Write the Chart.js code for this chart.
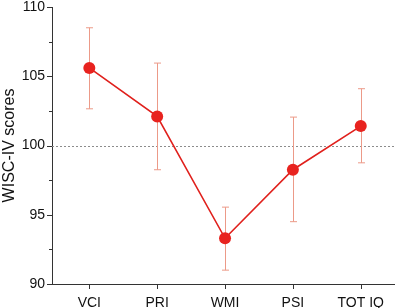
<!DOCTYPE html>
<html>
<head>
<meta charset="utf-8">
<script src="https://cdn.jsdelivr.net/npm/chart.js@4/dist/chart.umd.min.js"></script>
<style>
  html, body { margin: 0; padding: 0; background: #fff; }
  #wrap { width: 400px; height: 308px; }
</style>
</head>
<body>
<div id="wrap"><canvas id="wiscChart"></canvas></div>
<script>
const categories = ['VCI', 'PRI', 'WMI', 'PSI', 'TOT IQ'];
const scores = [105.6, 102.1, 93.3, 98.25, 101.4];
const upper = [108.5, 105.95, 95.55, 102.05, 104.1];
const lower = [102.65, 98.25, 91.0, 94.5, 98.75];
const yTicks = [90, 95, 100, 105, 110];
const refLine = 100;

const axisFont = { family: 'Liberation Sans, Arial, sans-serif', size: 14 };

// dotted reference line, error bars and axis ticks
const extras = {
    id: 'extras',
    beforeDatasetsDraw(chart) {
        const ctx = chart.ctx;
        const x = chart.scales.x;
        const y = chart.scales.y;
        const area = chart.chartArea;

        ctx.save();
        ctx.strokeStyle = '#8c8c8c';
        ctx.lineWidth = 1;
        ctx.setLineDash([2, 2]);
        ctx.beginPath();
        ctx.moveTo(area.left, Math.round(y.getPixelForValue(refLine)) + 0.5);
        ctx.lineTo(area.right, Math.round(y.getPixelForValue(refLine)) + 0.5);
        ctx.stroke();
        ctx.setLineDash([]);

        ctx.strokeStyle = '#ec9a88';
        ctx.lineWidth = 1;
        categories.forEach((c, i) => {
            const px = Math.round(x.getPixelForValue(i)) + 0.5;
            const top = y.getPixelForValue(upper[i]);
            const bot = y.getPixelForValue(lower[i]);
            ctx.beginPath();
            ctx.moveTo(px, top);
            ctx.lineTo(px, bot);
            ctx.moveTo(px - 3.5, top);
            ctx.lineTo(px + 3.5, top);
            ctx.moveTo(px - 3.5, bot);
            ctx.lineTo(px + 3.5, bot);
            ctx.stroke();
        });
        ctx.restore();
    },
    afterDraw(chart) {
        const ctx = chart.ctx;
        const x = chart.scales.x;
        const y = chart.scales.y;
        const area = chart.chartArea;
        ctx.save();
        ctx.strokeStyle = '#333';
        ctx.lineWidth = 1;
        ctx.beginPath();
        for (let v = 90; v <= 110; v += 2.5) {
            const py = Math.round(y.getPixelForValue(v)) + 0.5;
            const len = v % 5 === 0 ? 5 : 3;
            ctx.moveTo(area.left - len, py);
            ctx.lineTo(area.left, py);
        }
        categories.forEach((c, i) => {
            const px = Math.round(x.getPixelForValue(i)) + 0.5;
            ctx.moveTo(px, area.bottom);
            ctx.lineTo(px, area.bottom + 5);
        });
        ctx.stroke();
        ctx.restore();
    }
};

new Chart(document.getElementById('wiscChart').getContext('2d'), {
    type: 'line',
    data: {
        datasets: [{
            label: 'WISC-IV',
            data: scores.map((v, i) => ({ x: i, y: v })),
            borderColor: '#e0201c',
            backgroundColor: '#e8231f',
            borderWidth: 1.6,
            pointRadius: 6,
            pointBorderWidth: 0,
            pointBackgroundColor: '#e8231f',
            fill: false,
            tension: 0
        }]
    },
    options: {
        responsive: true,
        maintainAspectRatio: false,
        animation: false,
        layout: { padding: { top: 7, right: 0, left: 0, bottom: 0 } },
        plugins: {
            legend: { display: false },
            tooltip: { enabled: false }
        },
        scales: {
            x: {
                type: 'linear',
                min: -0.55,
                max: 4.49,
                afterBuildTicks: scale => {
                    scale.ticks = categories.map((c, i) => ({ value: i }));
                },
                ticks: {
                    callback: v => categories[v],
                    color: '#111',
                    font: axisFont,
                    padding: 7,
                    maxRotation: 0,
                    autoSkip: false
                },
                grid: { display: false, tickLength: 4 },
                border: { display: true, color: '#333', width: 1 },
                afterFit: scale => { scale.height = 24; }
            },
            y: {
                min: 90,
                max: 110,
                afterBuildTicks: scale => {
                    scale.ticks = yTicks.map(v => ({ value: v }));
                },
                ticks: {
                    color: '#111',
                    font: axisFont,
                    padding: 3
                },
                grid: { display: false, tickLength: 4 },
                border: { display: true, color: '#333', width: 1 },
                title: {
                    display: true,
                    text: 'WISC-IV scores',
                    color: '#111',
                    font: { family: 'Liberation Sans, Arial, sans-serif', size: 16 },
                    padding: 0
                },
                afterFit: scale => {
                    scale.width = 52;
                    scale.paddingTop = 0;
                }
            }
        }
    },
    plugins: [extras]
});
</script>
</body>
</html>
